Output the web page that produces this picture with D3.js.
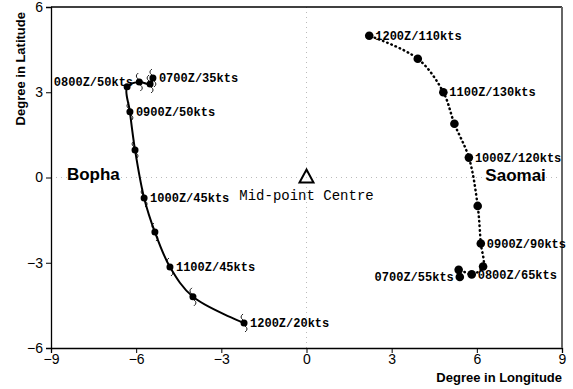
<!DOCTYPE html>
<html lang="en">
<head>
    <meta charset="UTF-8">
    <title>Bopha and Saomai tracks</title>
    <script type="application/javascript" src="https://d3js.org/d3.v7.min.js"></script>
    <style>
        body { margin: 0; background: #fff; }
        .tick text { font-family: "Liberation Sans", Arial, sans-serif; font-size: 14px; }
    </style>
</head>
<body>
<svg width="573" height="389"></svg>
<script type="application/javascript">
    var svg = d3.select("svg")
    var width = 573;
    var height = 389;
    var margin = {top: 7, right: 11, bottom: 41, left: 51};

    // relative position (degrees) of Bopha, 12-hourly (more early on)
    var bophaLon = [-5.41, -5.51, -5.89, -6.32, -6.22, -6.04, -5.72, -5.34, -4.81, -4.00, -2.20];
    var bophaLat = [3.50, 3.29, 3.36, 3.19, 2.31, 0.97, -0.72, -1.92, -3.15, -4.20, -5.12];
    var bophaLabels = ["0700Z/35kts", "", "", "0800Z/50kts", "0900Z/50kts", "", "1000Z/45kts", "", "1100Z/45kts", "", "1200Z/20kts"];

    var saomaiLon = [5.40, 5.36, 5.82, 6.22, 6.14, 6.03, 5.72, 5.21, 4.82, 3.92, 2.21];
    var saomaiLat = [-3.50, -3.25, -3.41, -3.13, -2.32, -1.00, 0.70, 1.89, 3.00, 4.18, 4.99];
    var saomaiLabels = ["0700Z/55kts", "", "0800Z/65kts", "", "0900Z/90kts", "", "1000Z/120kts", "", "1100Z/130kts", "", "1200Z/110kts"];

    var xTicks = [-9, -6, -3, 0, 3, 6, 9];
    var yTicks = [-6, -3, 0, 3, 6];

    var x = d3.scaleLinear()
        .domain([-9, 9])
        .range([margin.left, width - margin.right]);
    var y = d3.scaleLinear()
        .domain([-6, 6])
        .range([height - margin.bottom, margin.top]);

    var bopha = bophaLon.map(function (d, i) {
        return {lon: d, lat: bophaLat[i], label: bophaLabels[i]}
    });
    var saomai = saomaiLon.map(function (d, i) {
        return {lon: d, lat: saomaiLat[i], label: saomaiLabels[i]}
    });

    // dotted cross through the mid-point
    svg.append("line")
        .attr("x1", x(-9)).attr("x2", x(9))
        .attr("y1", y(0)).attr("y2", y(0))
        .attr("stroke", "#bbb").attr("stroke-dasharray", "1,4");
    svg.append("line")
        .attr("x1", x(0)).attr("x2", x(0))
        .attr("y1", y(-6)).attr("y2", y(6))
        .attr("stroke", "#bbb").attr("stroke-dasharray", "1,4");

    // axes
    svg.append("g")
        .attr("transform", "translate(0," + y(-6) + ")")
        .call(d3.axisBottom(x).tickValues(xTicks).tickSize(5).tickPadding(1))
        .call(function (g) { g.select(".domain").attr("stroke-width", 1.3) });
    svg.append("g")
        .attr("transform", "translate(" + x(-9) + ",0)")
        .call(d3.axisLeft(y).tickValues(yTicks).tickSize(5).tickPadding(3))
        .call(function (g) { g.select(".domain").attr("stroke-width", 1.3) });
    svg.selectAll(".tick text").attr("fill", "#000");

    // top and right frame
    svg.append("line")
        .attr("x1", x(-9)).attr("x2", x(9))
        .attr("y1", y(6)).attr("y2", y(6))
        .attr("stroke", "#000").attr("stroke-width", 1.3);
    svg.append("line")
        .attr("x1", x(9)).attr("x2", x(9))
        .attr("y1", y(6)).attr("y2", y(-6))
        .attr("stroke", "#666").attr("stroke-width", 2);

    // axis titles
    svg.append("text")
        .attr("x", x(9)).attr("y", 382)
        .attr("text-anchor", "end")
        .style("font-family", "Liberation Sans, Arial, sans-serif")
        .style("font-weight", "bold").style("font-size", "13px")
        .text("Degree in Longitude");
    svg.append("text")
        .attr("transform", "translate(25," + (y(6) + 5) + ") rotate(-90)")
        .attr("text-anchor", "end")
        .style("font-family", "Liberation Sans, Arial, sans-serif")
        .style("font-weight", "bold").style("font-size", "13px")
        .text("Degree in Latitude");

    var line = d3.line()
        .x(function (d) { return x(d.lon) })
        .y(function (d) { return y(d.lat) })
        .curve(d3.curveCatmullRom);

    // Bopha track: solid
    svg.append("path")
        .datum(bopha)
        .attr("d", line)
        .attr("fill", "none")
        .attr("stroke", "#000")
        .attr("stroke-width", 2);

    // storm symbols
    svg.selectAll(".storm")
        .data(bopha.filter(function (d, i) { return i !== 3 }))
        .enter()
        .append("path")
        .attr("class", "storm")
        .attr("transform", function (d) {
            return "translate(" + x(d.lon) + "," + y(d.lat) + ")"
        })
        .attr("d", "M-1,-9 Q-5,-6 -1,-3 M1,9 Q5,6 1,3")
        .attr("fill", "none")
        .attr("stroke", "#000")
        .attr("stroke-width", 0.9);

    svg.selectAll(".bdot")
        .data(bopha)
        .enter()
        .append("circle")
        .attr("class", "bdot")
        .attr("cx", function (d) { return x(d.lon) })
        .attr("cy", function (d) { return y(d.lat) })
        .attr("r", 3.5)
        .attr("fill", "#000");

    // Saomai track: dotted
    svg.append("path")
        .datum(saomai)
        .attr("d", line)
        .attr("fill", "none")
        .attr("stroke", "#000")
        .attr("stroke-width", 2.5)
        .attr("stroke-linecap", "round")
        .attr("stroke-dasharray", "0.5,4");

    svg.selectAll(".sdot")
        .data(saomai)
        .enter()
        .append("circle")
        .attr("class", "sdot")
        .attr("cx", function (d) { return x(d.lon) })
        .attr("cy", function (d) { return y(d.lat) })
        .attr("r", 4.3)
        .attr("fill", "#000");

    // time / intensity labels; the two 0800Z/0700Z ones sit left of their point
    var leftSide = ["0800Z/50kts", "0700Z/55kts"];
    svg.selectAll(".lbl")
        .data(bopha.concat(saomai).filter(function (d) { return d.label !== "" }))
        .enter()
        .append("text")
        .attr("class", "lbl")
        .attr("x", function (d) { return x(d.lon) + 6 })
        .attr("dx", function (d) {
            return leftSide.indexOf(d.label) >= 0 ? (d.label === "0800Z/50kts" ? 0 : -12) : 0
        })
        .attr("y", function (d) {
            return d.label === "0800Z/50kts" ? y(d.lat) - 5 : y(d.lat)
        })
        .attr("dy", "0.35em")
        .attr("text-anchor", function (d) {
            return leftSide.indexOf(d.label) >= 0 ? "end" : "start"
        })
        .style("font-family", "Liberation Mono, Courier New, monospace")
        .style("font-weight", "bold")
        .style("font-size", "12px")
        .text(function (d) { return d.label });

    // mid-point marker
    svg.append("path")
        .attr("transform", "translate(" + x(0) + "," + (y(0) - 1) + ")")
        .attr("d", "M0,-7 L7,6 L-7,6 Z")
        .attr("fill", "none")
        .attr("stroke", "#000")
        .attr("stroke-width", 2);
    svg.append("text")
        .attr("x", x(0)).attr("y", y(0) + 18)
        .attr("dy", "0.35em")
        .attr("text-anchor", "middle")
        .style("font-family", "Liberation Mono, Courier New, monospace")
        .style("font-size", "14px")
        .text("Mid-point Centre");

    // storm names
    svg.append("text")
        .attr("x", x(-8.44)).attr("y", y(0) + 2)
        .style("font-family", "Liberation Sans, Arial, sans-serif")
        .style("font-weight", "bold").style("font-size", "17px")
        .text("Bopha");
    svg.append("text")
        .attr("x", x(6.3)).attr("y", y(0) + 3)
        .style("font-family", "Liberation Sans, Arial, sans-serif")
        .style("font-weight", "bold").style("font-size", "17px")
        .text("Saomai");
</script>
</body>
</html>
